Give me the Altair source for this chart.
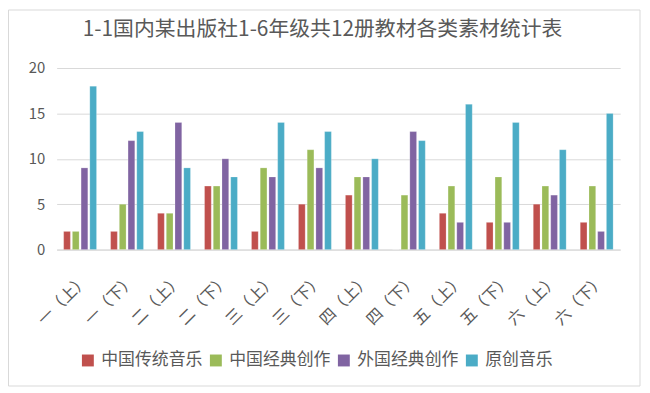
import altair as alt
import pandas as pd

title_text = "1-1国内某出版社1-6年级共12册教材各类素材统计表"
categories = ["一（上）", "一（下）", "二（上）", "二（下）", "三（上）", "三（下）",
              "四（上）", "四（下）", "五（上）", "五（下）", "六（上）", "六（下）"]
series = ["中国传统音乐", "中国经典创作", "外国经典创作", "原创音乐"]
trad = [2, 2, 4, 7, 2, 5, 6, 0, 4, 3, 5, 3]
cn_classic = [2, 5, 4, 7, 9, 11, 8, 6, 7, 8, 7, 7]
foreign = [9, 12, 14, 10, 8, 9, 8, 13, 3, 3, 6, 2]
original = [18, 13, 9, 8, 14, 13, 10, 12, 16, 14, 11, 15]
colors = ["#C0504D", "#9BBB59", "#8064A2", "#4BACC6"]
y_ticks = [0, 5, 10, 15, 20]

rows = []
for s, vals in zip(series, [trad, cn_classic, foreign, original]):
    for c, v in zip(categories, vals):
        rows.append({"cat": c, "series": s, "value": v})
df = pd.DataFrame(rows)

FONT = "Noto Sans CJK SC"

bars = alt.Chart(df).mark_bar(stroke="#ffffff", strokeOpacity=0.35, strokeWidth=0.6).encode(
    x=alt.X("cat:N", sort=categories,
            scale=alt.Scale(paddingInner=0.3, paddingOuter=0.15),
            axis=alt.Axis(title=None, labelAngle=-45, labelFontSize=16, labelColor="#595959",
                          labelFont=FONT, ticks=False, domainColor="#d9d9d9", labelPadding=22)),
    xOffset=alt.XOffset("series:N", sort=series, scale=alt.Scale(paddingInner=0.23)),
    y=alt.Y("value:Q", scale=alt.Scale(domain=[0, 20]),
            axis=alt.Axis(title=None, values=y_ticks, domain=False, ticks=False,
                          gridColor="#d9d9d9", labelFontSize=15, labelColor="#595959",
                          labelFont=FONT, labelPadding=12)),
    color=alt.Color("series:N", sort=series,
                    scale=alt.Scale(domain=series, range=colors),
                    legend=alt.Legend(title=None, orient="none", legendX=23, legendY=286,
                                      direction="horizontal", columns=4, symbolType="square",
                                      symbolSize=144, symbolStrokeWidth=0, labelFontSize=17,
                                      labelColor="#595959", labelFont=FONT, columnPadding=5,
                                      symbolOffset=0, labelOffset=5)),
)

border = alt.Chart(pd.DataFrame({"v": [0]})).mark_rect(
    fill="transparent", stroke="#d9d9d9", strokeWidth=1
).encode(x=alt.value(-48.5), x2=alt.value(588), y=alt.value(-58.5), y2=alt.value(320.5))

title = alt.Chart(pd.DataFrame({"t": [title_text]})).mark_text(
    font=FONT, fontSize=21, color="#595959", align="center", baseline="middle"
).encode(x=alt.value(268), y=alt.value(-38), text="t:N")

chart = alt.layer(border, bars, title).properties(
    width=568, height=183,
    padding={"left": 49, "top": 59, "right": 22, "bottom": 140},
    autosize=alt.AutoSizeParams(type="none"),
).configure_view(stroke=None)

chart.save("out.html", embed_options={"renderer": "svg", "actions": False})
